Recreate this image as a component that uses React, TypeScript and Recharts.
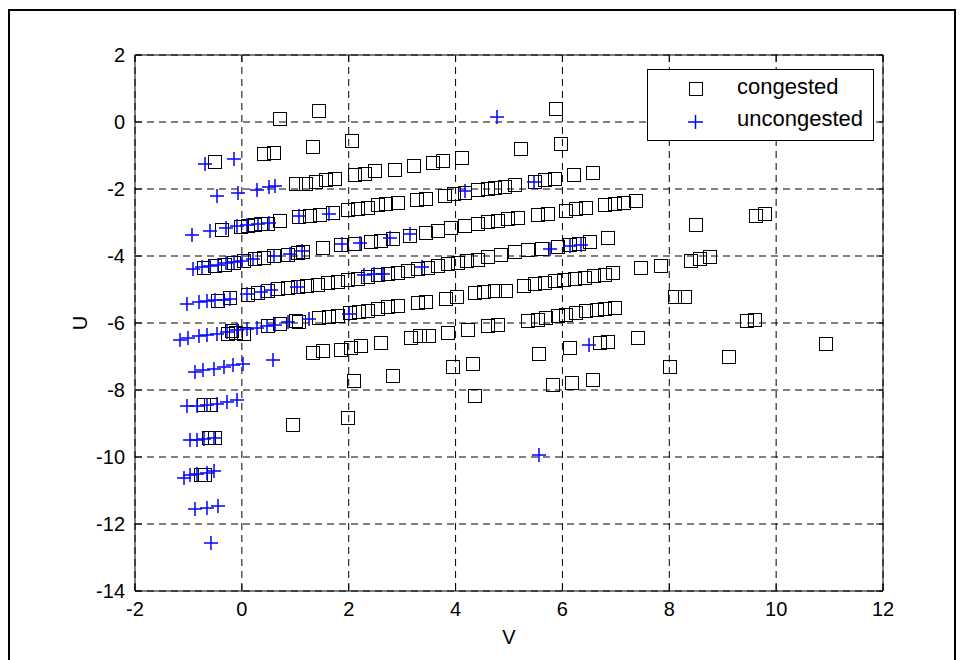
import React from "react";
import { ScatterChart, Scatter, XAxis, YAxis, CartesianGrid, ReferenceArea, ReferenceLine } from "recharts";

const xTicks = [-2, 0, 2, 4, 6, 8, 10, 12];
const yTicks = [2, 0, -2, -4, -6, -8, -10, -12, -14];
const xDomain = [-2, 12];
const yDomain = [-14, 2];
const xLabel = "V";
const yLabel = "U";
const seriesNames = ["congested", "uncongested"];

// congested (V, U)
const congestedTop = [[0.69,0.13],[1.43,0.35],[0.40,-0.94],[0.59,-0.90],[-0.53,-1.17],[1.31,-0.73],[2.05,-0.53],[5.2,-0.78],[5.87,0.41],[5.95,-0.63]];
const congestedRow1 = [[1.0,-1.81],[1.19,-1.81],[1.37,-1.76],[1.56,-1.69],[1.72,-1.66],[2.09,-1.56],[2.28,-1.52],[2.47,-1.44],[2.84,-1.39],[3.21,-1.29],[3.56,-1.19],[3.75,-1.14],[4.1,-1.04]];
const congestedBand2 = [[-0.39,-3.18],[-0.03,-3.1],[0.09,-3.08],[0.22,-3.05],[0.34,-3.02],[0.47,-3.0],[0.69,-2.93],[1.06,-2.82],[1.25,-2.79],[1.44,-2.74],[1.69,-2.69],[1.96,-2.61],[2.15,-2.58],[2.34,-2.54],[2.53,-2.46],[2.68,-2.43],[2.9,-2.39],[3.25,-2.31],[3.43,-2.28],[3.78,-2.18],[3.96,-2.13],[4.15,-2.08],[4.4,-2.01],[4.59,-1.98],[4.71,-1.94],[4.9,-1.92],[5.09,-1.86],[5.46,-1.76],[5.65,-1.69],[5.84,-1.66],[6.2,-1.54],[6.55,-1.49]];
const congestedBand3 = [[-0.72,-4.33],[-0.53,-4.28],[-0.34,-4.23],[-0.16,-4.18],[0.03,-4.13],[0.22,-4.05],[0.4,-4.03],[0.59,-3.98],[0.84,-3.93],[1.03,-3.88],[1.12,-3.85],[1.5,-3.73],[1.84,-3.65],[2.09,-3.61],[2.4,-3.55],[2.59,-3.53],[2.81,-3.45],[3.12,-3.38],[3.43,-3.28],[3.65,-3.21],[3.9,-3.13],[4.15,-3.08],[4.4,-3.01],[4.59,-2.96],[4.78,-2.93],[4.96,-2.88],[5.15,-2.84],[5.52,-2.76],[5.71,-2.72],[6.05,-2.64],[6.24,-2.58],[6.43,-2.54],[6.77,-2.44],[6.96,-2.42],[7.14,-2.39],[7.36,-2.34]];
const congestedBand4 = [[-0.47,-5.3],[-0.25,-5.22],[0.09,-5.14],[0.28,-5.07],[0.47,-5.02],[0.66,-4.97],[0.84,-4.93],[1.03,-4.9],[1.2,-4.88],[1.4,-4.83],[1.6,-4.78],[1.78,-4.74],[1.97,-4.7],[2.15,-4.65],[2.34,-4.6],[2.53,-4.55],[2.72,-4.5],[2.9,-4.47],[3.1,-4.42],[3.28,-4.37],[3.46,-4.32],[3.65,-4.27],[3.84,-4.22],[4.02,-4.18],[4.2,-4.13],[4.4,-4.09],[4.59,-4.0],[4.84,-3.94],[5.09,-3.86],[5.34,-3.8],[5.59,-3.76],[5.9,-3.7],[6.12,-3.65],[6.3,-3.61],[6.49,-3.55],[6.84,-3.43]];
const congestedBand5 = [[-0.28,-6.3],[-0.12,-6.27],[0.02,-6.29],[-0.2,-6.2],[0.47,-6.07],[0.69,-6.0],[1.0,-5.92],[1.06,-5.95],[1.43,-5.82],[1.62,-5.8],[1.78,-5.77],[2.0,-5.67],[2.18,-5.65],[2.34,-5.6],[2.53,-5.54],[2.72,-5.5],[2.9,-5.45],[3.28,-5.37],[3.43,-5.34],[3.81,-5.24],[4.0,-5.2],[4.34,-5.07],[4.52,-5.04],[4.71,-5.02],[4.93,-5.0],[5.27,-4.87],[5.46,-4.82],[5.65,-4.78],[5.84,-4.73],[6.02,-4.7],[6.21,-4.67],[6.4,-4.63],[6.58,-4.58],[6.77,-4.53],[6.93,-4.48]];
const congestedBand6 = [[1.31,-6.87],[1.5,-6.81],[1.84,-6.77],[2.03,-6.72],[2.22,-6.67],[2.59,-6.57],[3.15,-6.42],[3.31,-6.37],[3.49,-6.37],[3.84,-6.27],[4.21,-6.17],[4.59,-6.07],[4.78,-6.02],[5.34,-5.92],[5.52,-5.87],[5.68,-5.82],[5.9,-5.77],[6.05,-5.72],[6.24,-5.67],[6.43,-5.62],[6.62,-5.57],[6.77,-5.54],[6.96,-5.52]];
const congestedScatter = [[2.08,-7.71],[2.81,-7.56],[3.93,-7.29],[4.31,-7.19],[4.34,-8.16],[1.97,-8.8],[0.94,-9.02],[5.55,-6.9],[6.12,-6.73],[6.68,-6.57],[6.84,-6.54],[7.4,-6.42],[5.8,-7.81],[6.16,-7.76],[6.55,-7.66],[8.0,-7.29],[9.09,-6.99],[10.92,-6.59],[9.43,-5.92],[9.58,-5.87],[8.08,-5.19],[8.27,-5.19],[8.39,-4.13],[8.55,-4.05],[8.74,-4.01],[7.46,-4.33],[7.83,-4.28],[8.49,-3.03],[9.61,-2.79],[9.77,-2.73]];
const congestedLeft = [[-0.72,-8.43],[-0.59,-8.43],[-0.63,-9.4],[-0.53,-9.4],[-0.79,-10.5],[-0.7,-10.5]];

// uncongested (V, U)
const uncongestedTop = [[-0.69,-1.26],[-0.14,-1.10],[4.78,0.15]];
const uncongestedRow2 = [[-0.47,-2.2],[-0.08,-2.13],[0.28,-2.04],[0.5,-1.95],[0.62,-1.92]];
const uncongestedRow3 = [[-0.94,-3.37],[-0.59,-3.25],[-0.3,-3.15],[-0.1,-3.1],[0.1,-3.08],[0.3,-3.03],[0.5,-3.0],[1.07,-2.82],[1.64,-2.74],[4.18,-2.07],[5.46,-1.79]];
const uncongestedRow4 = [[-0.91,-4.38],[-0.75,-4.33],[-0.6,-4.3],[-0.45,-4.26],[-0.3,-4.22],[-0.15,-4.18],[0.0,-4.14],[0.2,-4.1],[0.6,-4.0],[0.9,-3.93],[1.12,-3.86],[1.87,-3.65],[2.22,-3.61],[2.78,-3.45],[3.15,-3.35]];
const uncongestedRow5 = [[-1.03,-5.42],[-0.81,-5.37],[-0.66,-5.35],[-0.5,-5.32],[-0.34,-5.3],[-0.22,-5.27],[0.1,-5.12],[0.35,-5.06],[0.55,-5.02],[1.03,-4.94],[2.28,-4.58],[2.47,-4.55],[2.65,-4.55],[3.37,-4.33],[5.77,-3.78],[6.15,-3.7],[6.34,-3.68]];
const uncongestedRow6 = [[-1.16,-6.5],[-1.0,-6.44],[-0.81,-6.4],[-0.66,-6.37],[-0.47,-6.32],[-0.28,-6.27],[-0.09,-6.22],[0.09,-6.18],[0.28,-6.14],[0.47,-6.1],[0.62,-6.07],[0.87,-5.97],[1.25,-5.87],[2.0,-5.74],[0.59,-7.09],[6.49,-6.65],[5.57,-9.95]];
const uncongestedLow = [[-0.87,-7.46],[-0.72,-7.41],[-0.53,-7.36],[-0.34,-7.31],[-0.16,-7.26],[0.03,-7.21],[-1.03,-8.49],[-0.84,-8.47],[-0.66,-8.44],[-0.47,-8.41],[-0.28,-8.36],[-0.09,-8.31],[-0.97,-9.5],[-0.84,-9.48],[-0.7,-9.46],[-0.53,-9.42],[-1.09,-10.62],[-0.97,-10.55],[-0.84,-10.52],[-0.66,-10.48],[-0.53,-10.43],[-0.87,-11.54],[-0.66,-11.51],[-0.44,-11.47],[-0.58,-12.56]];

const toPoints = (...groups: number[][][]) =>
  groups.flat().map(([v, u]) => ({ v, u }));

const congestedData = toPoints(congestedTop, congestedRow1, congestedBand2, congestedBand3, congestedBand4, congestedBand5, congestedBand6, congestedScatter, congestedLeft);
const uncongestedData = toPoints(uncongestedTop, uncongestedRow2, uncongestedRow3, uncongestedRow4, uncongestedRow5, uncongestedRow6, uncongestedLow);

const FONT = "'Liberation Sans', Arial, Helvetica, sans-serif";
const FS = 20;
const BLUE = "#0000ff";

// chart geometry
const W = 963;
const H = 660;
const MARGIN = { top: 55, right: 80, left: 75, bottom: 14 };
const Y_AXIS_W = 60;
const X_AXIS_H = 55;
const TICK_LEN = 7;
const plotW = W - MARGIN.left - MARGIN.right - Y_AXIS_W;
const plotH = H - MARGIN.top - MARGIN.bottom - X_AXIS_H;
const tickLenV = (TICK_LEN * (xDomain[1] - xDomain[0])) / plotW;
const tickLenU = (TICK_LEN * (yDomain[1] - yDomain[0])) / plotH;

const SquareShape = (props: any) => {
  const { cx, cy } = props;
  if (cx == null || cy == null) return null;
  const x = Math.round(cx) + 0.5;
  const y = Math.round(cy) + 0.5;
  return <rect x={x - 6.5} y={y - 6.5} width={13} height={13} fill="none" stroke="#000" strokeWidth={1} shapeRendering="crispEdges" />;
};

const PlusShape = (props: any) => {
  const { cx, cy } = props;
  if (cx == null || cy == null) return null;
  const x = Math.round(cx);
  const y = Math.round(cy);
  return (
    <g>
      <line x1={x - 7} x2={x + 7} y1={y} y2={y} stroke={BLUE} strokeWidth={1.5} />
      <line x1={x} x2={x} y1={y - 7} y2={y + 7} stroke={BLUE} strokeWidth={1.5} />
    </g>
  );
};

const XLabel = (props: any) => {
  const vb = props.viewBox || {};
  const x = vb.x + vb.width / 2;
  const y = vb.y + 46;
  return <text x={x} y={y} textAnchor="middle" dominantBaseline="central" fontFamily={FONT} fontSize={FS} fill="#000">{xLabel}</text>;
};

const YLabel = (props: any) => {
  const vb = props.viewBox || {};
  const x = 80;
  const y = vb.y + vb.height / 2;
  return <text x={x} y={y} transform={`rotate(-90, ${x}, ${y})`} textAnchor="middle" dominantBaseline="central" fontFamily={FONT} fontSize={FS} fill="#000">{yLabel}</text>;
};

const tickStyle = { fontFamily: FONT, fontSize: FS, fill: "#000" };

export default function App() {
  return (
    <div style={{ position: "fixed", left: 0, top: 0, width: W, height: H, background: "#fff" }}>
      <div style={{ position: "absolute", left: 8, top: 9, width: 948, height: 660, border: "2px solid #000", boxSizing: "border-box" }} />
      <div style={{ position: "absolute", left: 0, top: 0 }}>
        <ScatterChart width={W} height={H} margin={MARGIN}>
          <CartesianGrid stroke="#000" strokeDasharray="7 5" strokeWidth={1} />
          <XAxis
            dataKey="v"
            type="number"
            domain={xDomain}
            ticks={xTicks}
            allowDataOverflow
            height={X_AXIS_H}
            axisLine={false}
            tickLine={false}
            tickSize={0}
            tickMargin={11}
            tick={tickStyle}
            interval={0}
            label={<XLabel />}
          />
          <YAxis
            dataKey="u"
            type="number"
            domain={yDomain}
            ticks={yTicks}
            allowDataOverflow
            width={Y_AXIS_W}
            axisLine={false}
            tickLine={false}
            tickSize={0}
            tickMargin={10}
            tick={tickStyle}
            interval={0}
            label={<YLabel />}
          />
          <ReferenceArea x1={xDomain[0]} x2={xDomain[1]} y1={yDomain[0]} y2={yDomain[1]} fill="none" stroke="#000" strokeWidth={1} ifOverflow="visible" />
          {xTicks.map((t) => (
            <ReferenceLine key={`xb${t}`} segment={[{ x: t, y: yDomain[0] }, { x: t, y: yDomain[0] + tickLenU }]} stroke="#000" ifOverflow="visible" />
          ))}
          {xTicks.map((t) => (
            <ReferenceLine key={`xt${t}`} segment={[{ x: t, y: yDomain[1] }, { x: t, y: yDomain[1] - tickLenU }]} stroke="#000" ifOverflow="visible" />
          ))}
          {yTicks.map((t) => (
            <ReferenceLine key={`yl${t}`} segment={[{ x: xDomain[0], y: t }, { x: xDomain[0] + tickLenV, y: t }]} stroke="#000" ifOverflow="visible" />
          ))}
          {yTicks.map((t) => (
            <ReferenceLine key={`yr${t}`} segment={[{ x: xDomain[1], y: t }, { x: xDomain[1] - tickLenV, y: t }]} stroke="#000" ifOverflow="visible" />
          ))}
          <Scatter name={seriesNames[0]} data={congestedData} shape={SquareShape} isAnimationActive={false} />
          <Scatter name={seriesNames[1]} data={uncongestedData} shape={PlusShape} isAnimationActive={false} />
        </ScatterChart>
      </div>
      <div
        style={{
          position: "absolute",
          left: 647,
          top: 69,
          width: 227,
          height: 72,
          border: "1px solid #000",
          boxSizing: "border-box",
          background: "#fff",
          fontFamily: FONT,
          fontSize: 22,
          color: "#000",
        }}
      >
        <svg width={60} height={70} style={{ position: "absolute", left: 20, top: 0 }}>
          <rect x={21} y={12} width={13} height={13} fill="none" stroke="#000" strokeWidth={1} shapeRendering="crispEdges" />
          <line x1={20} x2={35} y1={52} y2={52} stroke={BLUE} strokeWidth={1.5} />
          <line x1={27.5} x2={27.5} y1={45} y2={59} stroke={BLUE} strokeWidth={1.5} />
        </svg>
        <div style={{ position: "absolute", left: 89, top: 4, lineHeight: "26px", whiteSpace: "nowrap" }}>{seriesNames[0]}</div>
        <div style={{ position: "absolute", left: 89, top: 36, lineHeight: "26px", whiteSpace: "nowrap" }}>{seriesNames[1]}</div>
      </div>
    </div>
  );
}
